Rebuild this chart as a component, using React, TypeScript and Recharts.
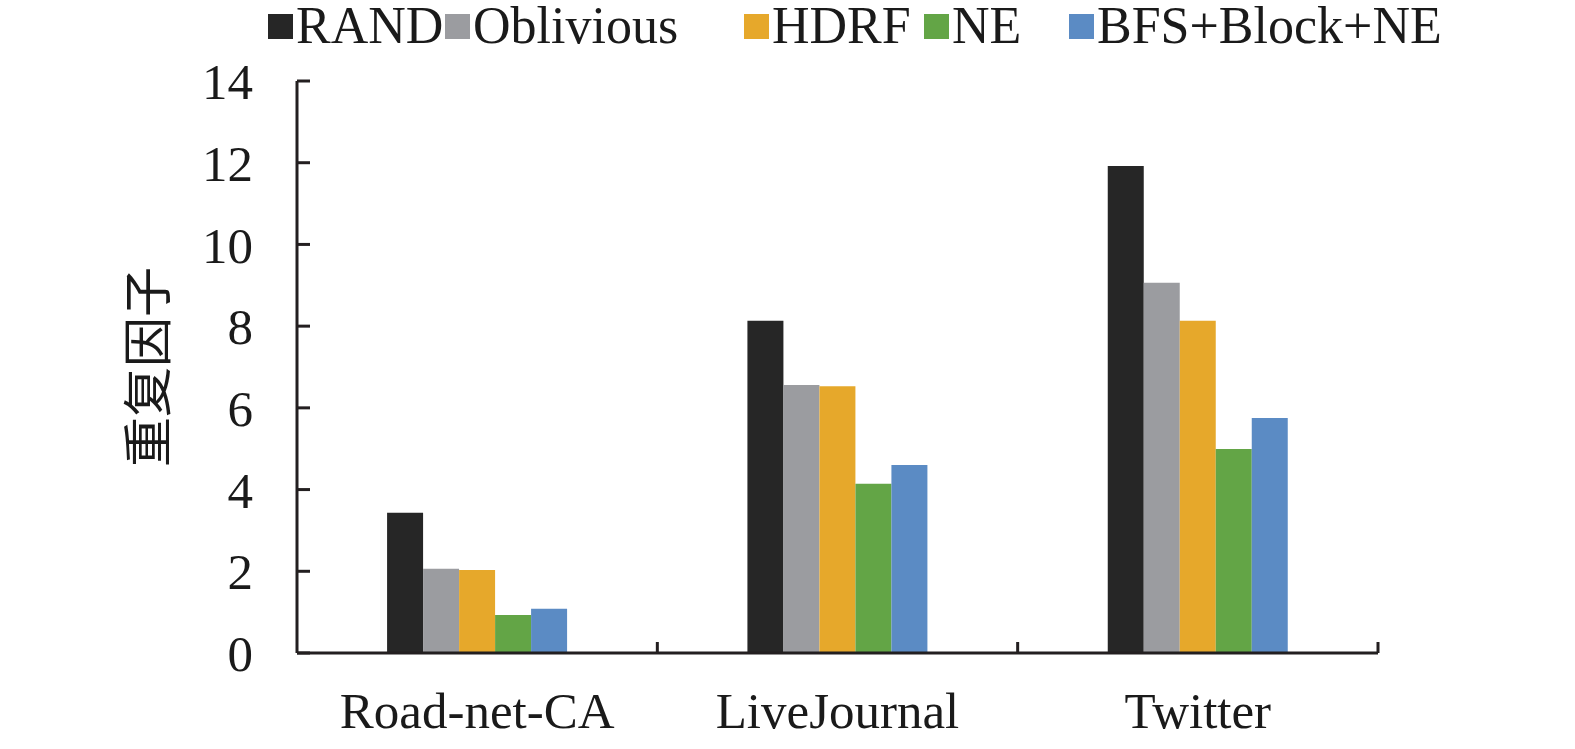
import React from 'react';
import { BarChart, Bar, XAxis, YAxis, Legend } from 'recharts';

const categories = ['Road-net-CA', 'LiveJournal', 'Twitter'];
const seriesNames = ['RAND', 'Oblivious', 'HDRF', 'NE', 'BFS+Block+NE'];
const rand = [3.43, 8.13, 11.92];
const oblivious = [2.06, 6.56, 9.06];
const hdrf = [2.03, 6.53, 8.13];
const ne = [0.93, 4.14, 4.99];
const bfsBlockNe = [1.08, 4.6, 5.75];
const yTicks = [0, 2, 4, 6, 8, 10, 12, 14];

const colors = ['#262626', '#9b9ca0', '#e6a82b', '#63a546', '#5b8bc4'];
const seriesValues = [rand, oblivious, hdrf, ne, bfsBlockNe];

const data = categories.map((name, i) => {
  const row: Record<string, string | number> = { name };
  seriesNames.forEach((s, j) => {
    row[s] = seriesValues[j][i];
  });
  return row;
});

const SERIF = '"Liberation Serif", "Times New Roman", serif';
const INK = '#231f20';

// left edge of each legend swatch, in page pixels
const legendLeft = [268, 445, 744, 924, 1069];

const LegendContent = () => (
  <div style={{ position: 'relative', width: 1575, height: 52 }}>
    {seriesNames.map((s, i) => (
      <div
        key={s}
        style={{
          position: 'absolute',
          left: legendLeft[i],
          top: 0,
          height: 52,
          display: 'flex',
          alignItems: 'center',
          whiteSpace: 'nowrap',
        }}
      >
        <span style={{ width: 25, height: 25, background: colors[i], display: 'inline-block', marginRight: 3 }} />
        <span style={{ fontFamily: SERIF, fontSize: 52, color: '#1a1a1a', lineHeight: '52px' }}>{s}</span>
      </div>
    ))}
  </div>
);

const X_TICK_SIZE = 0;
const X_TICK_MARGIN = 39;

const XTick = (props: any) => {
  const { x, y, payload } = props;
  const axisY = y - X_TICK_SIZE - X_TICK_MARGIN;
  const off = payload.offset ?? 180;
  return (
    <g>
      <line x1={x + off} x2={x + off} y1={axisY - 11} y2={axisY} stroke={INK} strokeWidth={3} />
      <text x={x} y={y} dy="0.71em" textAnchor="middle" fill="#1a1a1a" fontFamily={SERIF} fontSize={51}>
        {payload.value}
      </text>
    </g>
  );
};

export default function App() {
  return (
    <div style={{ position: 'absolute', left: 0, top: 0, background: '#fff' }}>
      <BarChart
        width={1575}
        height={749}
        data={data}
        margin={{ top: 81, right: 197, bottom: 0, left: 0 }}
        barCategoryGap="25%"
        barGap={0}
      >
        <XAxis
          dataKey="name"
          height={96}
          axisLine={{ stroke: INK, strokeWidth: 3 }}
          tickLine={false}
          tickSize={X_TICK_SIZE}
          tickMargin={X_TICK_MARGIN}
          tick={<XTick />}
          interval={0}
        />
        <YAxis
          width={297}
          domain={[0, 14]}
          ticks={yTicks}
          interval={0}
          axisLine={{ stroke: INK, strokeWidth: 3 }}
          tickLine={{ stroke: INK, strokeWidth: 3 }}
          tickSize={-13}
          tickMargin={57}
          tick={{ fill: '#1a1a1a', fontFamily: SERIF, fontSize: 51 }}
          label={{
            value: '重复因子',
            angle: -90,
            position: 'center',
            style: { fill: '#1a1a1a', fontFamily: '"Noto Sans CJK SC", sans-serif', fontSize: 50 },
          }}
        />
        <Legend
          verticalAlign="middle"
          layout="horizontal"
          wrapperStyle={{ top: 0, left: 0, width: 1575 }}
          content={<LegendContent />}
        />
        {seriesNames.map((s, i) => (
          <Bar key={s} dataKey={s} fill={colors[i]} isAnimationActive={false} />
        ))}
      </BarChart>
    </div>
  );
}
